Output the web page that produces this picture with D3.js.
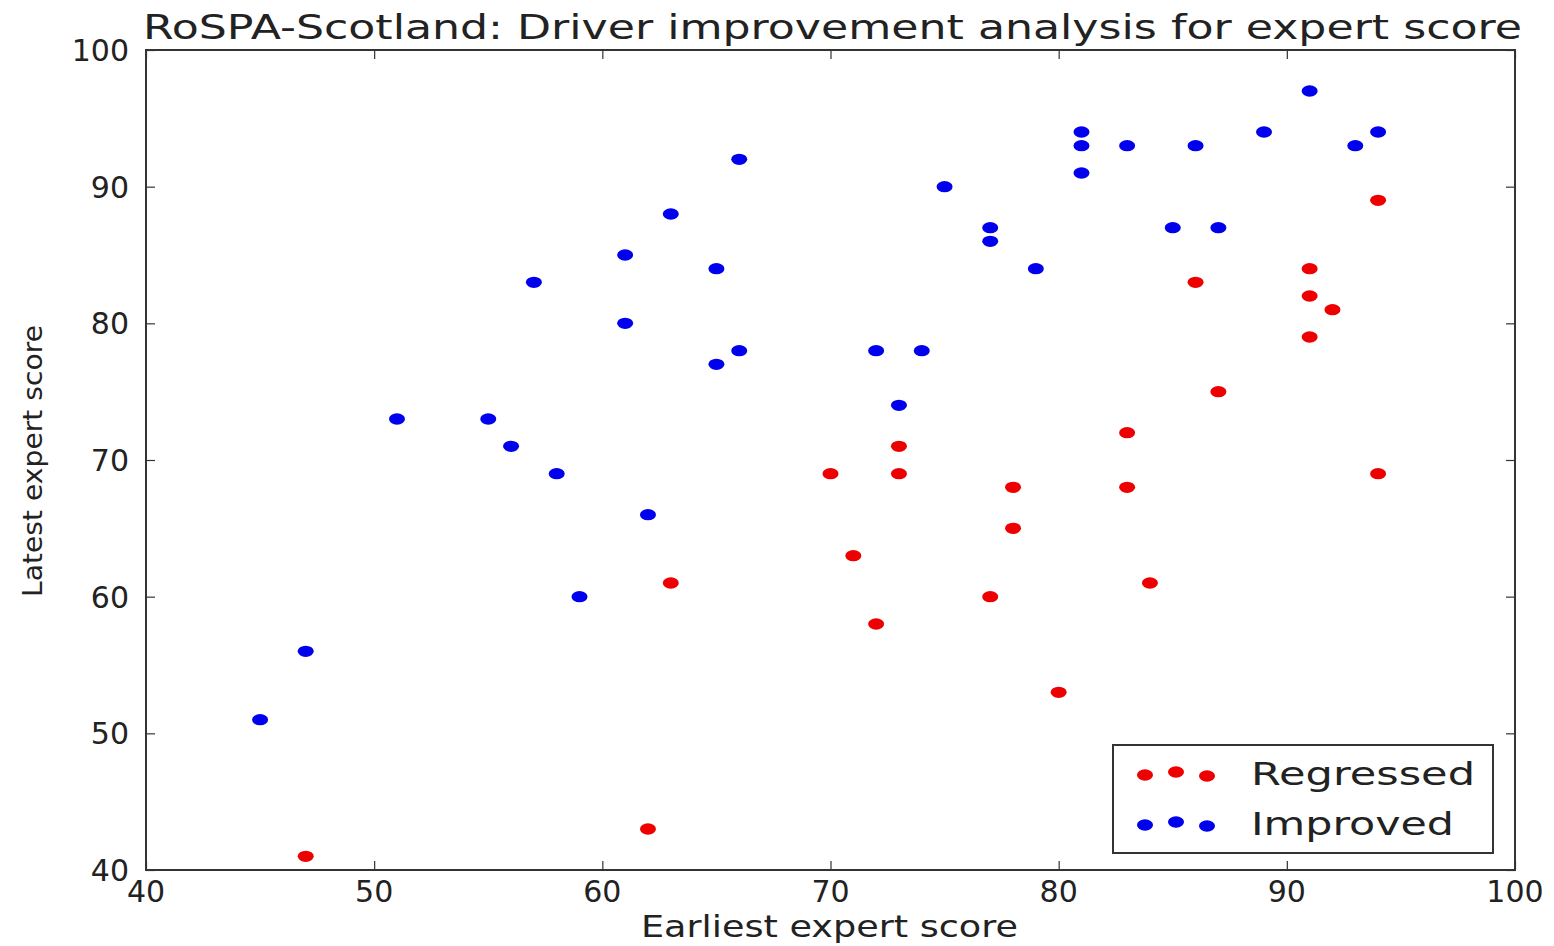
<!DOCTYPE html>
<html>
<head>
<meta charset="utf-8">
<script src="https://cdn.jsdelivr.net/npm/d3@7"></script>
<style>
html,body{margin:0;padding:0;background:#fff;}
text{font-family:"DejaVu Sans",sans-serif;fill:#222;}
</style>
</head>
<body>
<svg id="chart" width="1554" height="946"></svg>
<script>
// ---- data ----
const regressedEarliest = [47,62,63,70,71,72,73,73,77,78,78,80,83,83,84,86,87,91,91,91,92,94,94];
const regressedLatest   = [41,43,61,69,63,58,71,69,60,68,65,53,72,68,61,83,75,84,82,79,81,89,69];
const improvedEarliest  = [45,47,51,55,56,57,58,59,61,61,62,63,65,65,66,66,72,74,73,75,77,77,79,81,81,81,83,85,86,87,89,91,93,94];
const improvedLatest    = [51,56,73,73,71,83,69,60,85,80,66,88,84,77,92,78,78,78,74,90,87,86,84,94,93,91,93,87,93,87,94,97,93,94];
const xTicks = [40,50,60,70,80,90,100];
const yTicks = [40,50,60,70,80,90,100];
const seriesNames = ["Regressed","Improved"];
const seriesColors = ["#ee0000","#0000ee"];
const titleText = "RoSPA-Scotland: Driver improvement analysis for expert score";
const xLabel = "Earliest expert score";
const yLabel = "Latest expert score";

const svg = d3.select("#chart");
const L = 146, R = 1515, T = 50, B = 870;
const x = d3.scaleLinear().domain([40,100]).range([L,R]);
const y = d3.scaleLinear().domain([40,100]).range([B,T]);

const axisColor = "#333";

// ticks (inward, all sides)
function styleAxis(g){
  g.select(".domain").remove();
  g.selectAll(".tick line").attr("stroke",axisColor).attr("stroke-width",1.2);
  g.selectAll(".tick text").remove();
}
svg.append("g").attr("transform",`translate(0,${B})`)
  .call(d3.axisBottom(x).tickValues(xTicks).tickSize(-9)).call(styleAxis);
svg.append("g").attr("transform",`translate(0,${T})`)
  .call(d3.axisTop(x).tickValues(xTicks).tickSize(-9)).call(styleAxis);
svg.append("g").attr("transform",`translate(${L},0)`)
  .call(d3.axisLeft(y).tickValues(yTicks).tickSize(-9)).call(styleAxis);
svg.append("g").attr("transform",`translate(${R},0)`)
  .call(d3.axisRight(y).tickValues(yTicks).tickSize(-9)).call(styleAxis);

// tick labels
svg.append("g").selectAll("text").data(xTicks).join("text")
  .attr("x",d=>x(d)).attr("y",B+32).attr("text-anchor","middle")
  .attr("font-size",30).text(d=>d);
svg.append("g").selectAll("text").data(yTicks).join("text")
  .attr("x",L-17).attr("y",d=>y(d)+11).attr("text-anchor","end")
  .attr("font-size",30).text(d=>d);

// frame
svg.append("rect").attr("x",L).attr("y",T).attr("width",R-L).attr("height",B-T)
  .attr("fill","none").attr("stroke",axisColor).attr("stroke-width",2);

// points
const rx = 8, ry = 5.7;
const regressed = regressedEarliest.map((v,i)=>({e:v,l:regressedLatest[i]}));
const improved = improvedEarliest.map((v,i)=>({e:v,l:improvedLatest[i]}));
svg.append("g").selectAll("ellipse").data(regressed).join("ellipse")
  .attr("cx",d=>x(d.e)).attr("cy",d=>y(d.l)).attr("rx",rx).attr("ry",ry)
  .attr("fill",seriesColors[0]);
svg.append("g").selectAll("ellipse").data(improved).join("ellipse")
  .attr("cx",d=>x(d.e)).attr("cy",d=>y(d.l)).attr("rx",rx).attr("ry",ry)
  .attr("fill",seriesColors[1]);

// title & labels
svg.append("text").attr("x",143).attr("y",39).attr("font-size",34)
  .attr("textLength",1379).attr("lengthAdjust","spacingAndGlyphs").text(titleText);
svg.append("text").attr("x",641).attr("y",937).attr("font-size",30)
  .attr("textLength",377).attr("lengthAdjust","spacingAndGlyphs").text(xLabel);
svg.append("text").attr("transform","translate(42,597) rotate(-90)").attr("font-size",27)
  .attr("textLength",272).attr("lengthAdjust","spacingAndGlyphs").text(yLabel);

// legend
const lg = svg.append("g");
lg.append("rect").attr("x",1113).attr("y",745).attr("width",380).attr("height",108)
  .attr("fill","#fff").attr("stroke",axisColor).attr("stroke-width",2);
const dotXs = [1145,1176,1207];
const dotDy = [2,-1,3];
const rowY = [773,823];
const legendTextLen = [224,203];
seriesNames.forEach((name,i)=>{
  dotXs.forEach((dx,j)=>{
    lg.append("ellipse").attr("cx",dx).attr("cy",rowY[i]+dotDy[j]).attr("rx",rx).attr("ry",ry)
      .attr("fill",seriesColors[i]);
  });
  lg.append("text").attr("x",1251).attr("y",rowY[i]+12).attr("font-size",32)
    .attr("textLength",legendTextLen[i]).attr("lengthAdjust","spacingAndGlyphs").text(name);
});
</script>
</body>
</html>
